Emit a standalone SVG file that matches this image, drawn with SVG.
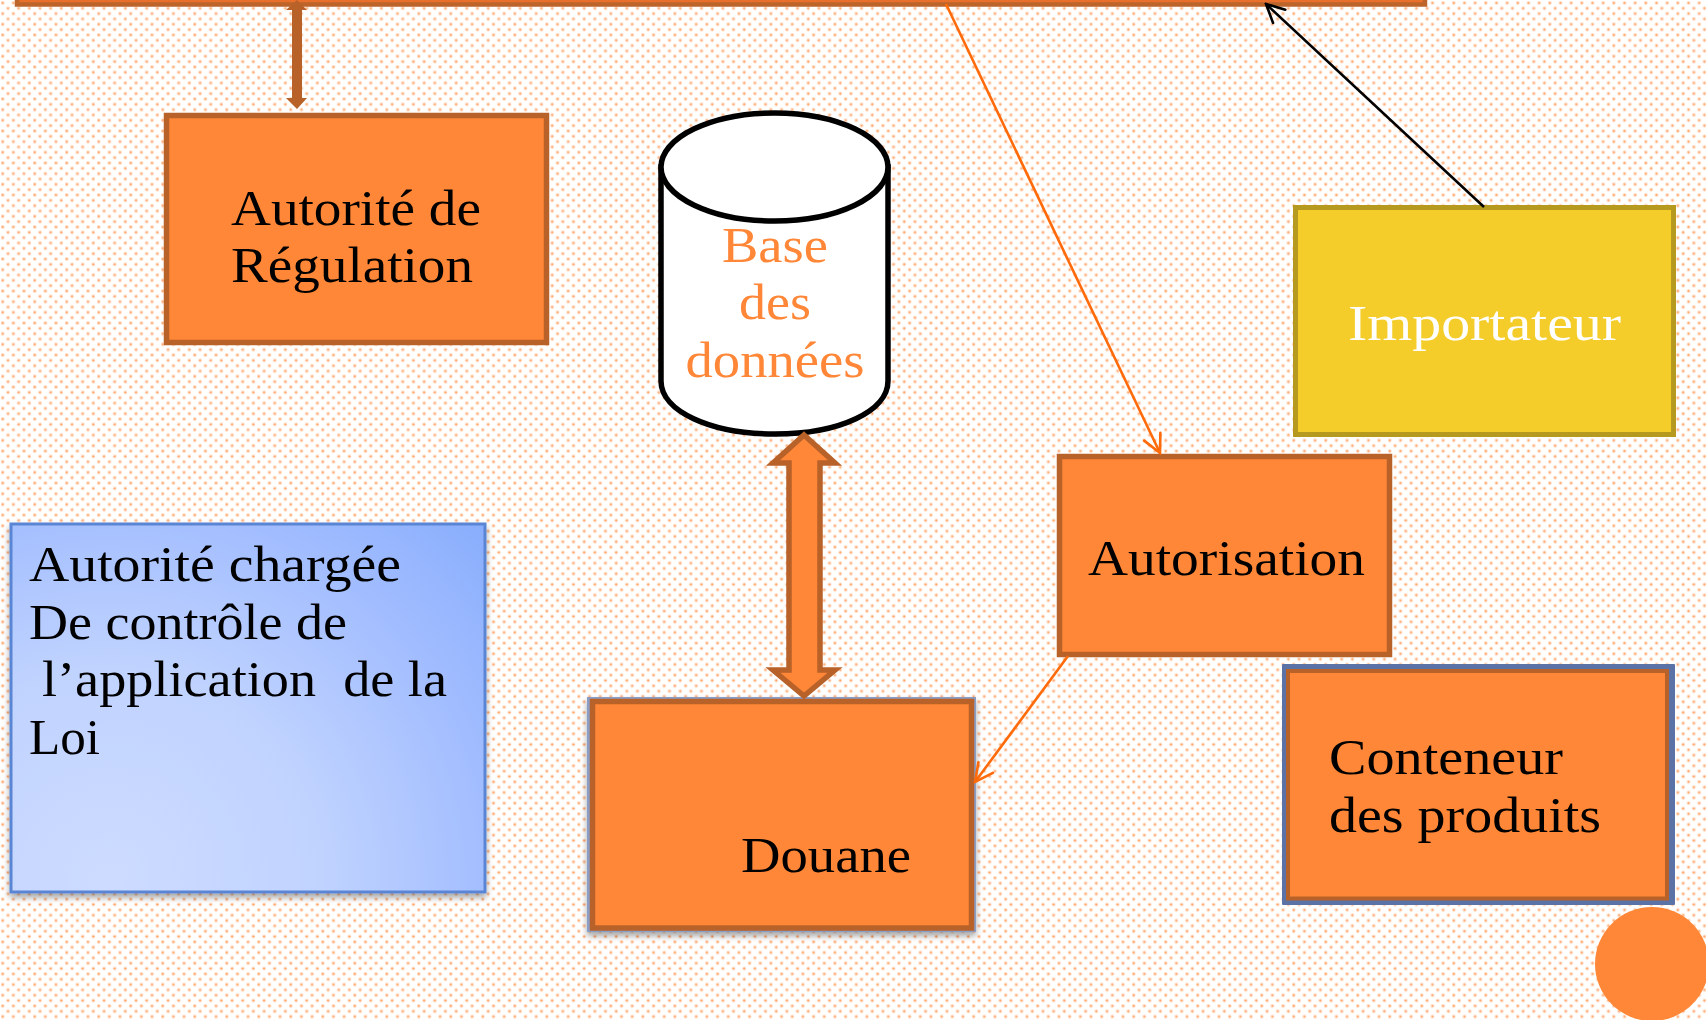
<svg xmlns="http://www.w3.org/2000/svg" width="1706" height="1020" viewBox="0 0 1706 1020">
<style>
.t{font-family:"Liberation Serif","DejaVu Serif",serif;font-size:50px;fill:#000}
.o{fill:#ff8737}
.w{fill:#fff}
.box{fill:#ff8737;stroke:#b8622a;stroke-width:5.500}
.ln{fill:none;stroke:#ff6a0a;stroke-width:2.600}
.lk{fill:none;stroke:#000;stroke-width:2.600}
</style>
<defs>
<pattern id="dots" width="10.67" height="10.67" patternUnits="userSpaceOnUse">
<rect width="10.67" height="10.67" fill="#fff"/>
<circle cx="2.67" cy="3" r="2" fill="#ffe0cb"/><circle cx="2.67" cy="3" r="1" fill="#ffa266"/>
<circle cx="8" cy="8.33" r="2" fill="#ffe0cb"/><circle cx="8" cy="8.33" r="1" fill="#ffa266"/>
</pattern>
<radialGradient id="blue" gradientUnits="userSpaceOnUse" cx="110" cy="880" r="530">
<stop offset="0" stop-color="#cddbff"/><stop offset="0.4" stop-color="#c0d3ff"/><stop offset="0.72" stop-color="#a2bdff"/><stop offset="1" stop-color="#86acfc"/>
</radialGradient>
<filter id="sh" x="-5%" y="-5%" width="110%" height="110%"><feDropShadow dx="0" dy="4" stdDeviation="3" flood-color="#000" flood-opacity="0.35"/></filter>
<marker id="ao" viewBox="0 0 24 24" refX="22" refY="12" markerWidth="24" markerHeight="24" markerUnits="userSpaceOnUse" orient="auto"><path d="M4 3L22 12L4 21" fill="none" stroke="#ff6a0a" stroke-width="2.600" stroke-linecap="round"/></marker>
<marker id="ak" viewBox="0 0 24 24" refX="22" refY="12" markerWidth="24" markerHeight="24" markerUnits="userSpaceOnUse" orient="auto"><path d="M4 3L22 12L4 21" fill="none" stroke="#000" stroke-width="2.600" stroke-linecap="round"/></marker>
</defs>
<rect id="background" width="1706" height="1020" fill="url(#dots)"/>
<circle id="corner-circle" cx="1652" cy="964" r="57" fill="#ff8737"/>
<g id="top-bar"><rect x="17" y="-6" width="1408" height="10.500" fill="#e8702c" stroke="#bd642b" stroke-width="4.500"/></g>
<g id="regulation"><rect class="box" x="166.500" y="115.500" width="380" height="227"/>
<text class="t" x="231" y="225" textLength="250" lengthAdjust="spacingAndGlyphs">Autorité de</text>
<text class="t" x="231" y="282" textLength="242" lengthAdjust="spacingAndGlyphs">Régulation</text></g>
<g id="database">
<path d="M661 167V381C661 411 710 434 775 434C840 434 888 411 888 381V167Z" fill="#fff" stroke="#000" stroke-width="5.500"/>
<ellipse cx="774.500" cy="167" rx="113.500" ry="54" fill="#fff" stroke="#000" stroke-width="5.500"/>
<g text-anchor="middle"><text class="t o" x="775" y="262" textLength="106" lengthAdjust="spacingAndGlyphs">Base</text>
<text class="t o" x="775" y="319" textLength="72" lengthAdjust="spacingAndGlyphs">des</text>
<text class="t o" x="775" y="377" textLength="179" lengthAdjust="spacingAndGlyphs">données</text></g></g>
<g id="importateur"><rect x="1295.500" y="207.500" width="378" height="227" fill="#f4cd2a" stroke="#b59a1f" stroke-width="5"/>
<text class="t w" x="1348" y="340" textLength="273" lengthAdjust="spacingAndGlyphs">Importateur</text></g>
<g id="autorisation"><rect class="box" x="1059.500" y="456.500" width="330" height="198"/>
<text class="t" x="1088" y="575" textLength="277" lengthAdjust="spacingAndGlyphs">Autorisation</text></g>
<g id="autorite-controle"><rect x="11" y="524" width="474" height="368" fill="url(#blue)" stroke="#5a85d4" stroke-width="3" filter="url(#sh)"/>
<text class="t" x="29" y="581" textLength="372" lengthAdjust="spacingAndGlyphs">Autorité chargée</text>
<text class="t" x="29" y="639" textLength="318" lengthAdjust="spacingAndGlyphs">De contrôle de</text>
<text class="t" x="42" y="696" xml:space="preserve" textLength="405" lengthAdjust="spacingAndGlyphs">l’application  de la</text>
<text class="t" x="29" y="754" textLength="71" lengthAdjust="spacingAndGlyphs">Loi</text></g>
<g id="douane"><rect x="587" y="697" width="389" height="235" fill="#8b9dc4" filter="url(#sh)"/><rect class="box" x="592.500" y="701.500" width="379" height="226.500"/>
<text class="t" x="741" y="872" textLength="170" lengthAdjust="spacingAndGlyphs">Douane</text></g>
<g id="conteneur"><rect x="1282" y="664" width="393" height="241" rx="1" fill="#5b72a6"/><rect x="1288" y="671" width="379" height="227.500" fill="#ff8737" stroke="#b8622a" stroke-width="4"/>
<text class="t" x="1329" y="774" textLength="234" lengthAdjust="spacingAndGlyphs">Conteneur</text>
<text class="t" x="1329" y="832" textLength="272" lengthAdjust="spacingAndGlyphs">des produits</text></g>
<g id="connectors">
<path d="M292 10V98H286L297 109L307 98H302V10H307L297 0L286 10Z" fill="#b8622a"/>
<path d="M804 435L835 463H820V670H835L804 696L773 670H789V463H773Z" fill="#ff8737" stroke="#b8622a" stroke-width="5.500"/>
<line class="ln" x1="946" y1="4" x2="1160" y2="453" marker-end="url(#ao)"/>
<line class="ln" x1="1068" y1="656" x2="975" y2="782" marker-end="url(#ao)"/>
<line class="lk" x1="1484" y1="207" x2="1266" y2="4" marker-end="url(#ak)"/>
</g>
</svg>
